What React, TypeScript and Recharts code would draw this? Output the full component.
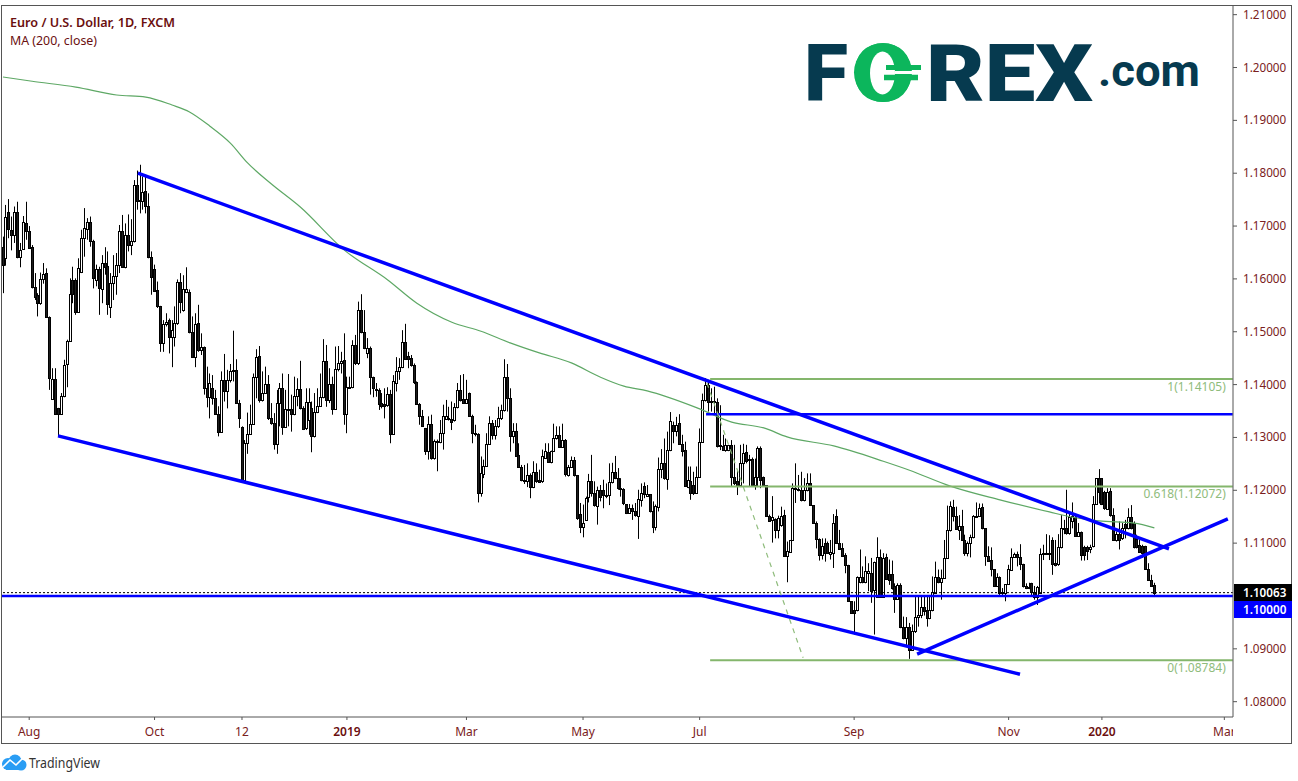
import { Bar, ComposedChart, Label, Line, ReferenceLine, XAxis, YAxis } from "recharts";

const TICK_COLOR = "#7a2020";
const LEGEND_COLOR = "#6b0f0f";
const FIB_GREEN = "#84b66c";
const FIB_TEXT = "#8fbc7c";
const BLUE = "#0000ff";
const LOGO_DARK = "#063a4f";
const LOGO_GREEN = "#0cb65c";
const FONT = "'Noto Sans', sans-serif";
const PLOT_RIGHT = 1233;

const upDown = (
  "bwbbwbwwbb" + "bbbwwbbwbb" + "wwwwbbwwww" + "bbwbwbbwww" + "wbwbwwbbwb" + "bbbbbwwbww" + "wbwwbbwbwb" + "bwbbbwbwww" +
  "bbbwwwwwbw" + "wbbbwwbwwb" + "wwbbwwbwww" + "wbwbwwwbww" + "wbwbbwbbwb" + "bbwbwwwwbb" + "bbbbbbwbww" + "wwwbbwwbbw" +
  "bbbbwwwwbw" + "wwwbbwbbbb" + "wbwbbwwbww" + "wbwbwwbbbw" + "wwbbwbbbww" + "bbbbbwbbww" + "bwbbwwwbww" + "bwbbbwbbww" +
  "wwbwwbwbww" + "bbbwwbwbww" + "bbbbwbwwbw" + "wwwbbwwbbb" + "bwbbwwbbbb" + "bbbwwbwwbw" + "wbwbbbbwbb" + "wbwwwwbbww" +
  "wbwwwwbbwb" + "bwwwwwbbbb" + "bwbbwwwwbb" + "bbwbbwwwbw" + "bbwwwbwwbw" + "bbbwwwbbbw" + "bbwbwbwbbb" + "bbbbbb"
).split("");

const bodyTops = [
  1.1661, 1.1718, 1.1727, 1.1693, 1.1727, 1.1727, 1.1655, 1.1707, 1.1705, 1.1691,
  1.1660, 1.1584, 1.1570, 1.1599, 1.1610, 1.1611, 1.1528, 1.1410, 1.1410, 1.1356,
  1.1378, 1.1438, 1.1483, 1.1571, 1.1598, 1.1598, 1.1620, 1.1677, 1.1696, 1.1708,
  1.1707, 1.1671, 1.1618, 1.1618, 1.1630, 1.1630, 1.1625, 1.1592, 1.1605, 1.1626,
  1.1690, 1.1690, 1.1683, 1.1683, 1.1672, 1.1778, 1.1778, 1.1749, 1.1765, 1.1766,
  1.1738, 1.1641, 1.1618, 1.1579, 1.1549, 1.1515, 1.1519, 1.1522, 1.1503, 1.1517,
  1.1594, 1.1594, 1.1580, 1.1580, 1.1576, 1.1500, 1.1515, 1.1516, 1.1471, 1.1471,
  1.1393, 1.1403, 1.1393, 1.1374, 1.1344, 1.1408, 1.1408, 1.1408, 1.1426, 1.1428,
  1.1428, 1.1365, 1.1319, 1.1290, 1.1307, 1.1326, 1.1415, 1.1453, 1.1454, 1.1385,
  1.1401, 1.1401, 1.1336, 1.1328, 1.1366, 1.1393, 1.1393, 1.1353, 1.1353, 1.1353,
  1.1379, 1.1391, 1.1391, 1.1355, 1.1368, 1.1368, 1.1355, 1.1348, 1.1360, 1.1377,
  1.1445, 1.1445, 1.1401, 1.1401, 1.1429, 1.1440, 1.1444, 1.1447, 1.1395, 1.1396,
  1.1475, 1.1475, 1.1542, 1.1542, 1.1500, 1.1469, 1.1469, 1.1414, 1.1391, 1.1390,
  1.1365, 1.1364, 1.1382, 1.1382, 1.1406, 1.1426, 1.1433, 1.1480, 1.1480, 1.1454,
  1.1450, 1.1437, 1.1404, 1.1363, 1.1341, 1.1318, 1.1326, 1.1326, 1.1294, 1.1294,
  1.1309, 1.1340, 1.1341, 1.1336, 1.1335, 1.1358, 1.1389, 1.1389, 1.1372, 1.1372,
  1.1384, 1.1341, 1.1308, 1.1307, 1.1232, 1.1246, 1.1288, 1.1327, 1.1327, 1.1321,
  1.1336, 1.1351, 1.1414, 1.1414, 1.1374, 1.1313, 1.1313, 1.1266, 1.1245, 1.1220,
  1.1229, 1.1229, 1.1234, 1.1234, 1.1220, 1.1264, 1.1275, 1.1273, 1.1275, 1.1299,
  1.1305, 1.1304, 1.1296, 1.1296, 1.1245, 1.1258, 1.1258, 1.1228, 1.1155, 1.1139,
  1.1185, 1.1217, 1.1217, 1.1194, 1.1201, 1.1201, 1.1201, 1.1192, 1.1215, 1.1234,
  1.1235, 1.1224, 1.1204, 1.1202, 1.1174, 1.1166, 1.1166, 1.1160, 1.1183, 1.1194,
  1.1209, 1.1193, 1.1193, 1.1160, 1.1170, 1.1240, 1.1252, 1.1252, 1.1276, 1.1332,
  1.1324, 1.1324, 1.1327, 1.1288, 1.1276, 1.1220, 1.1218, 1.1210, 1.1226, 1.1292,
  1.1370, 1.1399, 1.1399, 1.1369, 1.1369, 1.1368, 1.1285, 1.1284, 1.1286, 1.1286,
  1.1286, 1.1226, 1.1217, 1.1252, 1.1271, 1.1273, 1.1260, 1.1260, 1.1225, 1.1280,
  1.1280, 1.1226, 1.1210, 1.1152, 1.1150, 1.1146, 1.1147, 1.1152, 1.1153, 1.1086,
  1.1106, 1.1204, 1.1204, 1.1202, 1.1201, 1.1201, 1.1213, 1.1213, 1.1172, 1.1139,
  1.1108, 1.1094, 1.1101, 1.1101, 1.1084, 1.1139, 1.1152, 1.1100, 1.1091, 1.1078,
  1.1058, 1.0990, 1.0973, 1.1036, 1.1036, 1.1036, 1.1048, 1.1048, 1.1044, 1.1065,
  1.1073, 1.1073, 1.1072, 1.1073, 1.1042, 1.1042, 1.1018, 1.1021, 1.1021, 1.0942,
  1.0942, 1.0942, 1.0933, 1.0960, 1.0964, 1.0979, 1.0980, 1.0973, 1.0973, 1.1007,
  1.1036, 1.1036, 1.1034, 1.1072, 1.1124, 1.1170, 1.1169, 1.1151, 1.1132, 1.1132,
  1.1106, 1.1100, 1.1111, 1.1151, 1.1152, 1.1166, 1.1168, 1.1128, 1.1075, 1.1068,
  1.1051, 1.1035, 1.1035, 1.1008, 1.1022, 1.1051, 1.1073, 1.1079, 1.1079, 1.1074,
  1.1060, 1.1018, 1.1017, 1.1024, 1.1008, 1.1017, 1.1079, 1.1081, 1.1081, 1.1082,
  1.1106, 1.1062, 1.1092, 1.1129, 1.1129, 1.1129, 1.1150, 1.1151, 1.1150, 1.1122,
  1.1122, 1.1092, 1.1092, 1.1092, 1.1175, 1.1223, 1.1223, 1.1223, 1.1197, 1.1197,
  1.1199, 1.1153, 1.1117, 1.1117, 1.1128, 1.1136, 1.1150, 1.1150, 1.1138, 1.1107,
  1.1097, 1.1095, 1.1095, 1.1052, 1.1031, 1.1021,
];

const bodyBottoms = [
  1.1627, 1.1639, 1.1694, 1.1684, 1.1684, 1.1642, 1.1642, 1.1656, 1.1690, 1.1659,
  1.1584, 1.1565, 1.1555, 1.1554, 1.1599, 1.1528, 1.1412, 1.1373, 1.1344, 1.1344,
  1.1345, 1.1378, 1.1439, 1.1482, 1.1571, 1.1538, 1.1538, 1.1614, 1.1677, 1.1694,
  1.1671, 1.1601, 1.1597, 1.1582, 1.1581, 1.1623, 1.1552, 1.1547, 1.1592, 1.1605,
  1.1626, 1.1623, 1.1623, 1.1664, 1.1664, 1.1672, 1.1748, 1.1748, 1.1748, 1.1738,
  1.1641, 1.1603, 1.1578, 1.1548, 1.1478, 1.1478, 1.1515, 1.1491, 1.1491, 1.1491,
  1.1517, 1.1557, 1.1541, 1.1576, 1.1500, 1.1453, 1.1453, 1.1465, 1.1466, 1.1393,
  1.1376, 1.1376, 1.1374, 1.1344, 1.1311, 1.1311, 1.1388, 1.1388, 1.1408, 1.1426,
  1.1365, 1.1336, 1.1217, 1.1220, 1.1289, 1.1307, 1.1325, 1.1414, 1.1370, 1.1370,
  1.1385, 1.1336, 1.1327, 1.1287, 1.1287, 1.1366, 1.1319, 1.1319, 1.1352, 1.1344,
  1.1345, 1.1379, 1.1355, 1.1316, 1.1318, 1.1333, 1.1302, 1.1302, 1.1348, 1.1360,
  1.1376, 1.1370, 1.1370, 1.1354, 1.1354, 1.1429, 1.1440, 1.1344, 1.1344, 1.1395,
  1.1395, 1.1440, 1.1440, 1.1500, 1.1469, 1.1459, 1.1414, 1.1393, 1.1390, 1.1363,
  1.1360, 1.1360, 1.1362, 1.1306, 1.1306, 1.1403, 1.1426, 1.1433, 1.1448, 1.1448,
  1.1437, 1.1404, 1.1363, 1.1341, 1.1321, 1.1275, 1.1275, 1.1261, 1.1261, 1.1292,
  1.1292, 1.1308, 1.1335, 1.1335, 1.1330, 1.1333, 1.1357, 1.1370, 1.1365, 1.1365,
  1.1341, 1.1308, 1.1306, 1.1195, 1.1195, 1.1231, 1.1246, 1.1288, 1.1304, 1.1304,
  1.1321, 1.1336, 1.1351, 1.1374, 1.1302, 1.1302, 1.1265, 1.1245, 1.1220, 1.1217,
  1.1217, 1.1206, 1.1206, 1.1218, 1.1215, 1.1217, 1.1262, 1.1254, 1.1253, 1.1275,
  1.1299, 1.1282, 1.1282, 1.1231, 1.1229, 1.1245, 1.1228, 1.1147, 1.1131, 1.1131,
  1.1144, 1.1187, 1.1194, 1.1172, 1.1171, 1.1188, 1.1191, 1.1190, 1.1191, 1.1215,
  1.1223, 1.1204, 1.1202, 1.1176, 1.1157, 1.1157, 1.1160, 1.1154, 1.1152, 1.1182,
  1.1193, 1.1189, 1.1160, 1.1130, 1.1130, 1.1169, 1.1240, 1.1223, 1.1221, 1.1276,
  1.1313, 1.1313, 1.1288, 1.1275, 1.1209, 1.1207, 1.1194, 1.1194, 1.1194, 1.1226,
  1.1292, 1.1370, 1.1368, 1.1368, 1.1368, 1.1284, 1.1284, 1.1276, 1.1276, 1.1276,
  1.1225, 1.1213, 1.1209, 1.1210, 1.1252, 1.1256, 1.1257, 1.1210, 1.1210, 1.1225,
  1.1220, 1.1210, 1.1152, 1.1141, 1.1144, 1.1124, 1.1124, 1.1135, 1.1075, 1.1075,
  1.1084, 1.1106, 1.1202, 1.1200, 1.1181, 1.1181, 1.1201, 1.1172, 1.1139, 1.1108,
  1.1078, 1.1078, 1.1081, 1.1081, 1.1080, 1.1081, 1.1100, 1.1089, 1.1076, 1.1058,
  1.0990, 1.0968, 1.0968, 1.0973, 1.1026, 1.1026, 1.1026, 1.1044, 1.1010, 1.1012,
  1.0999, 1.0999, 1.0999, 1.1032, 1.1031, 1.1015, 1.0994, 1.0994, 1.0942, 1.0920,
  1.0920, 1.0898, 1.0898, 1.0933, 1.0960, 1.0964, 1.0971, 1.0958, 1.0958, 1.0973,
  1.1005, 1.1026, 1.1026, 1.1034, 1.1072, 1.1124, 1.1151, 1.1126, 1.1125, 1.1106,
  1.1081, 1.1081, 1.1100, 1.1111, 1.1151, 1.1151, 1.1128, 1.1075, 1.1067, 1.1051,
  1.1018, 1.1018, 1.1006, 1.1005, 1.1006, 1.1022, 1.1049, 1.1073, 1.1074, 1.1060,
  1.1018, 1.1015, 1.1015, 1.1008, 1.0999, 1.0999, 1.1005, 1.1079, 1.1079, 1.1080,
  1.1061, 1.1059, 1.1061, 1.1092, 1.1128, 1.1119, 1.1119, 1.1141, 1.1114, 1.1114,
  1.1078, 1.1078, 1.1086, 1.1088, 1.1095, 1.1175, 1.1197, 1.1174, 1.1166, 1.1164,
  1.1153, 1.1106, 1.1105, 1.1106, 1.1109, 1.1128, 1.1128, 1.1128, 1.1092, 1.1092,
  1.1084, 1.1082, 1.1052, 1.1030, 1.1019, 1.1006,
];

const highs = [
  1.1680, 1.1740, 1.1751, 1.1718, 1.1737, 1.1746, 1.1668, 1.1719, 1.1746, 1.1700,
  1.1664, 1.1611, 1.1573, 1.1612, 1.1630, 1.1620, 1.1529, 1.1431, 1.1431, 1.1356,
  1.1384, 1.1447, 1.1485, 1.1601, 1.1623, 1.1601, 1.1639, 1.1693, 1.1734, 1.1715,
  1.1718, 1.1674, 1.1627, 1.1623, 1.1645, 1.1660, 1.1652, 1.1611, 1.1645, 1.1649,
  1.1702, 1.1721, 1.1705, 1.1722, 1.1713, 1.1787, 1.1805, 1.1816, 1.1794, 1.1797,
  1.1762, 1.1652, 1.1627, 1.1595, 1.1549, 1.1522, 1.1535, 1.1525, 1.1522, 1.1548,
  1.1599, 1.1611, 1.1607, 1.1622, 1.1580, 1.1529, 1.1535, 1.1551, 1.1497, 1.1472,
  1.1434, 1.1421, 1.1418, 1.1390, 1.1359, 1.1425, 1.1458, 1.1428, 1.1439, 1.1502,
  1.1448, 1.1371, 1.1321, 1.1295, 1.1347, 1.1362, 1.1421, 1.1467, 1.1473, 1.1425,
  1.1434, 1.1418, 1.1365, 1.1346, 1.1390, 1.1403, 1.1421, 1.1390, 1.1420, 1.1381,
  1.1415, 1.1412, 1.1445, 1.1359, 1.1393, 1.1393, 1.1368, 1.1384, 1.1393, 1.1421,
  1.1486, 1.1475, 1.1431, 1.1415, 1.1472, 1.1473, 1.1462, 1.1497, 1.1415, 1.1415,
  1.1484, 1.1494, 1.1557, 1.1571, 1.1541, 1.1488, 1.1472, 1.1415, 1.1403, 1.1393,
  1.1384, 1.1393, 1.1395, 1.1390, 1.1418, 1.1452, 1.1450, 1.1503, 1.1515, 1.1462,
  1.1456, 1.1440, 1.1406, 1.1365, 1.1352, 1.1318, 1.1340, 1.1343, 1.1296, 1.1296,
  1.1333, 1.1362, 1.1371, 1.1358, 1.1368, 1.1365, 1.1403, 1.1418, 1.1420, 1.1409,
  1.1385, 1.1343, 1.1324, 1.1308, 1.1264, 1.1258, 1.1308, 1.1340, 1.1333, 1.1333,
  1.1358, 1.1362, 1.1448, 1.1439, 1.1393, 1.1327, 1.1327, 1.1289, 1.1248, 1.1248,
  1.1251, 1.1232, 1.1255, 1.1251, 1.1239, 1.1277, 1.1289, 1.1289, 1.1275, 1.1326,
  1.1321, 1.1321, 1.1326, 1.1297, 1.1248, 1.1264, 1.1263, 1.1229, 1.1176, 1.1173,
  1.1188, 1.1231, 1.1267, 1.1217, 1.1207, 1.1210, 1.1220, 1.1213, 1.1251, 1.1252,
  1.1265, 1.1242, 1.1223, 1.1204, 1.1174, 1.1174, 1.1173, 1.1176, 1.1201, 1.1213,
  1.1215, 1.1210, 1.1193, 1.1179, 1.1173, 1.1262, 1.1278, 1.1298, 1.1311, 1.1348,
  1.1330, 1.1339, 1.1344, 1.1305, 1.1292, 1.1245, 1.1245, 1.1235, 1.1245, 1.1317,
  1.1383, 1.1412, 1.1409, 1.1393, 1.1396, 1.1374, 1.1361, 1.1305, 1.1298, 1.1286,
  1.1295, 1.1286, 1.1239, 1.1286, 1.1288, 1.1286, 1.1267, 1.1262, 1.1260, 1.1283,
  1.1283, 1.1226, 1.1210, 1.1154, 1.1189, 1.1147, 1.1152, 1.1169, 1.1163, 1.1103,
  1.1106, 1.1213, 1.1251, 1.1229, 1.1235, 1.1223, 1.1232, 1.1232, 1.1172, 1.1141,
  1.1109, 1.1109, 1.1109, 1.1103, 1.1106, 1.1155, 1.1164, 1.1125, 1.1100, 1.1081,
  1.1059, 1.0990, 1.0990, 1.1037, 1.1088, 1.1056, 1.1075, 1.1062, 1.1072, 1.1065,
  1.1111, 1.1088, 1.1081, 1.1080, 1.1069, 1.1067, 1.1024, 1.1024, 1.1024, 1.0961,
  1.0960, 1.0949, 1.0946, 1.0998, 1.0999, 1.0999, 1.0999, 1.0999, 1.0999, 1.1037,
  1.1065, 1.1050, 1.1050, 1.1106, 1.1171, 1.1179, 1.1182, 1.1169, 1.1153, 1.1163,
  1.1116, 1.1103, 1.1116, 1.1153, 1.1177, 1.1175, 1.1175, 1.1128, 1.1094, 1.1092,
  1.1051, 1.1043, 1.1037, 1.1015, 1.1022, 1.1059, 1.1090, 1.1082, 1.1084, 1.1098,
  1.1061, 1.1024, 1.1025, 1.1025, 1.1019, 1.1019, 1.1090, 1.1097, 1.1117, 1.1115,
  1.1111, 1.1106, 1.1117, 1.1153, 1.1144, 1.1201, 1.1160, 1.1177, 1.1153, 1.1138,
  1.1122, 1.1095, 1.1095, 1.1097, 1.1189, 1.1223, 1.1240, 1.1223, 1.1199, 1.1204,
  1.1204, 1.1166, 1.1122, 1.1141, 1.1138, 1.1144, 1.1166, 1.1172, 1.1141, 1.1116,
  1.1106, 1.1097, 1.1095, 1.1062, 1.1040, 1.1025,
];

const lows = [
  1.1573, 1.1625, 1.1677, 1.1654, 1.1668, 1.1639, 1.1622, 1.1655, 1.1674, 1.1658,
  1.1582, 1.1560, 1.1529, 1.1551, 1.1591, 1.1526, 1.1390, 1.1371, 1.1343, 1.1302,
  1.1343, 1.1376, 1.1395, 1.1482, 1.1554, 1.1532, 1.1536, 1.1611, 1.1642, 1.1674,
  1.1661, 1.1582, 1.1586, 1.1532, 1.1554, 1.1608, 1.1532, 1.1526, 1.1560, 1.1570,
  1.1611, 1.1622, 1.1620, 1.1652, 1.1645, 1.1669, 1.1731, 1.1724, 1.1731, 1.1724,
  1.1639, 1.1570, 1.1578, 1.1545, 1.1462, 1.1462, 1.1510, 1.1459, 1.1433, 1.1472,
  1.1513, 1.1535, 1.1538, 1.1573, 1.1497, 1.1452, 1.1433, 1.1462, 1.1456, 1.1381,
  1.1357, 1.1336, 1.1362, 1.1343, 1.1302, 1.1309, 1.1368, 1.1355, 1.1404, 1.1406,
  1.1364, 1.1318, 1.1215, 1.1219, 1.1269, 1.1305, 1.1324, 1.1374, 1.1366, 1.1368,
  1.1383, 1.1333, 1.1324, 1.1277, 1.1269, 1.1321, 1.1305, 1.1318, 1.1321, 1.1311,
  1.1342, 1.1359, 1.1353, 1.1314, 1.1314, 1.1305, 1.1272, 1.1300, 1.1346, 1.1358,
  1.1374, 1.1358, 1.1365, 1.1343, 1.1352, 1.1425, 1.1421, 1.1324, 1.1308, 1.1393,
  1.1393, 1.1437, 1.1437, 1.1497, 1.1467, 1.1450, 1.1381, 1.1376, 1.1377, 1.1352,
  1.1355, 1.1336, 1.1358, 1.1289, 1.1305, 1.1387, 1.1409, 1.1431, 1.1447, 1.1431,
  1.1434, 1.1401, 1.1362, 1.1324, 1.1321, 1.1267, 1.1258, 1.1258, 1.1258, 1.1236,
  1.1289, 1.1277, 1.1333, 1.1332, 1.1314, 1.1330, 1.1355, 1.1368, 1.1364, 1.1364,
  1.1340, 1.1289, 1.1302, 1.1177, 1.1188, 1.1223, 1.1245, 1.1286, 1.1296, 1.1296,
  1.1318, 1.1333, 1.1349, 1.1349, 1.1273, 1.1289, 1.1264, 1.1245, 1.1217, 1.1212,
  1.1206, 1.1185, 1.1204, 1.1214, 1.1214, 1.1214, 1.1261, 1.1253, 1.1251, 1.1273,
  1.1296, 1.1280, 1.1280, 1.1226, 1.1226, 1.1244, 1.1226, 1.1144, 1.1119, 1.1111,
  1.1144, 1.1177, 1.1188, 1.1169, 1.1135, 1.1179, 1.1166, 1.1185, 1.1172, 1.1213,
  1.1221, 1.1201, 1.1188, 1.1172, 1.1155, 1.1157, 1.1144, 1.1150, 1.1108, 1.1169,
  1.1185, 1.1188, 1.1158, 1.1119, 1.1124, 1.1160, 1.1223, 1.1220, 1.1201, 1.1274,
  1.1289, 1.1302, 1.1286, 1.1264, 1.1207, 1.1204, 1.1182, 1.1191, 1.1193, 1.1225,
  1.1290, 1.1368, 1.1349, 1.1349, 1.1346, 1.1281, 1.1276, 1.1275, 1.1273, 1.1274,
  1.1207, 1.1210, 1.1191, 1.1207, 1.1213, 1.1251, 1.1207, 1.1209, 1.1201, 1.1206,
  1.1204, 1.1209, 1.1150, 1.1141, 1.1101, 1.1109, 1.1109, 1.1131, 1.1075, 1.1026,
  1.1082, 1.1105, 1.1176, 1.1198, 1.1179, 1.1179, 1.1198, 1.1171, 1.1138, 1.1090,
  1.1067, 1.1069, 1.1065, 1.1080, 1.1069, 1.1053, 1.1099, 1.1087, 1.1075, 1.1043,
  1.0990, 1.0968, 1.0927, 1.0971, 1.1024, 1.1024, 1.1024, 1.1009, 1.0987, 1.0927,
  1.0998, 1.0998, 1.0998, 1.1031, 1.1021, 1.1012, 1.0968, 1.0993, 1.0939, 1.0918,
  1.0905, 1.0881, 1.0897, 1.0930, 1.0942, 1.0958, 1.0963, 1.0942, 1.0956, 1.0971,
  1.1004, 1.1024, 1.0993, 1.1033, 1.1070, 1.1122, 1.1141, 1.1125, 1.1106, 1.1105,
  1.1076, 1.1075, 1.1073, 1.1109, 1.1149, 1.1150, 1.1126, 1.1057, 1.1065, 1.1037,
  1.1017, 1.1017, 1.1002, 1.1002, 1.0990, 1.1021, 1.1048, 1.1072, 1.1056, 1.1049,
  1.1016, 1.1013, 1.1013, 1.0999, 1.0993, 1.0983, 1.1004, 1.1068, 1.1078, 1.1068,
  1.1040, 1.1056, 1.1057, 1.1090, 1.1117, 1.1116, 1.1116, 1.1128, 1.1112, 1.1112,
  1.1067, 1.1067, 1.1068, 1.1081, 1.1092, 1.1174, 1.1175, 1.1172, 1.1163, 1.1163,
  1.1150, 1.1105, 1.1103, 1.1088, 1.1106, 1.1109, 1.1126, 1.1126, 1.1090, 1.1090,
  1.1082, 1.1072, 1.1051, 1.1029, 1.1018, 1.0998,
];

// moving average at these bar positions
const maBars = [
  0, 10, 25, 39, 49, 58, 64, 71, 78, 84, 92, 102, 117, 132, 142, 154, 164, 174, 184, 195,
  205, 213, 221, 239, 250, 261, 269, 285, 302, 311, 325, 342, 359, 367, 376, 388, 395,
];
const maValues = [
  1.1982, 1.1974, 1.1963, 1.1948, 1.1944, 1.1929, 1.1916, 1.1889, 1.1857, 1.1819, 1.178, 1.1736, 1.1655, 1.1598,
  1.1554, 1.1518, 1.1501, 1.1479, 1.146, 1.1441, 1.1414, 1.1397, 1.1388, 1.1354, 1.1329, 1.1318, 1.1301, 1.1284,
  1.1255, 1.1238, 1.1208, 1.1182, 1.1159, 1.1149, 1.1142, 1.1138, 1.1129,
];

const priceTicks = [1.08, 1.09, 1.1, 1.11, 1.12, 1.13, 1.14, 1.15, 1.16, 1.17, 1.18, 1.19, 1.2, 1.21];
const lastPrice = 1.10063;
const levelPrice = 1.1;
const resistancePrice = 1.1344;

const timeTicks = [9, 52, 82, 118, 159, 199, 239, 292, 345, 377, 419];
const timeLabels = ["Aug", "Oct", "12", "2019", "Mar", "May", "Jul", "Sep", "Nov", "2020", "Mar"];

const fibStart = 242.6;
const fibEnd = 421.9;
const fibLevels = [1.14105, 1.12072, 1.08784];
const fibLabels = ["1(1.14105)", "0.618(1.12072)", "0(1.08784)"];

// [bar, price] end points of the drawn lines
const upperTrend = [[46.3, 1.18], [400, 1.1089]];
const lowerTrend = [[18.9, 1.1303], [348.9, 1.0852]];
const riseTrend = [[313.6, 1.089], [420.2, 1.1146]];
const fibLeg = [[241.5, 1.1403], [274.5, 1.0883]];

const rows = bodyTops.map((top, i) => {
  const maAt = maBars.indexOf(i);
  return {
    i,
    top,
    bottom: bodyBottoms[i],
    range: [lows[i], highs[i]],
    up: upDown[i] === "w",
    ma: maAt >= 0 ? maValues[maAt] : null,
  };
});

const toSegment = (line: number[][]) => line.map(([x, y]) => ({ x, y }));

function Candle(props: any) {
  const { x, y, height, payload } = props;
  if (!payload || !height) return null;
  const [low, high] = payload.range;
  const perUnit = height / (high - low);
  const c = Math.floor(x + 1.5);
  const top = Math.round(y + (high - payload.top) * perUnit);
  const bottom = Math.round(y + (high - payload.bottom) * perUnit);
  return (
    <g>
      <line x1={c + 0.5} x2={c + 0.5} y1={y} y2={y + height} stroke="#000" strokeWidth={1} />
      <rect
        x={c - 0.5}
        y={top + 0.5}
        width={2}
        height={Math.max(bottom - top, 1)}
        fill={payload.up ? "#fff" : "#1c1c1c"}
        stroke="#000"
        strokeWidth={1}
      />
    </g>
  );
}

function PriceTick(props: any) {
  const { y, payload } = props;
  const value = payload.value;
  if (value === lastPrice || value === levelPrice) {
    const isLast = value === lastPrice;
    const boxTop = isLast ? 584 : 601;
    return (
      <g>
        <rect x={PLOT_RIGHT + 1} y={boxTop} width={58} height={17} fill={isLast ? "#000" : BLUE} />
        <text x={PLOT_RIGHT + 10} y={boxTop + 13} fill="#fff" fontFamily={FONT} fontSize={11.7} fontWeight={600}>
          {value.toFixed(5)}
        </text>
      </g>
    );
  }
  return (
    <g>
      <line x1={PLOT_RIGHT} x2={PLOT_RIGHT + 4} y1={y} y2={y} stroke="#555" />
      <text x={PLOT_RIGHT + 10} y={y + 4} fill={TICK_COLOR} fontFamily={FONT} fontSize={11.7}>
        {value.toFixed(5)}
      </text>
    </g>
  );
}

function TimeTick(props: any) {
  const { x, payload } = props;
  const label = timeLabels[timeTicks.indexOf(payload.value)];
  const isYear = label.length === 4;
  return (
    <g>
      <line x1={x} x2={x} y1={717} y2={720} stroke="#555" />
      <text
        x={x}
        y={736}
        textAnchor="middle"
        fill={isYear ? LEGEND_COLOR : TICK_COLOR}
        fontFamily={FONT}
        fontSize={12}
        fontWeight={isYear ? 600 : 400}
        clipPath="url(#timeClip)"
      >
        {label}
      </text>
    </g>
  );
}

function FibLabel(props: any) {
  const { viewBox, value } = props;
  return (
    <text
      x={viewBox.x + viewBox.width - 7}
      y={viewBox.y + 12}
      textAnchor="end"
      fill={FIB_TEXT}
      fontFamily={FONT}
      fontSize={12}
    >
      {value}
    </text>
  );
}

function Overlay() {
  return (
    <svg width={1298} height={781} style={{ position: "absolute", left: 0, top: 0, pointerEvents: "none" }}>
      <text x={10} y={27} fill={LEGEND_COLOR} fontFamily={FONT} fontSize={12.5} fontWeight={600} textLength={165} lengthAdjust="spacingAndGlyphs">
        Euro / U.S. Dollar, 1D, FXCM
      </text>
      <text x={10} y={45} fill={LEGEND_COLOR} fontFamily={FONT} fontSize={12.5} textLength={87} lengthAdjust="spacingAndGlyphs">
        MA (200, close)
      </text>

      <g fontFamily="Roboto, sans-serif" fontWeight={900} fontSize={80}>
        <text x={804} y={101} fill={LOGO_DARK} textLength={44} lengthAdjust="spacingAndGlyphs">F</text>
        <text x={852} y={101} fill={LOGO_GREEN} textLength={62} lengthAdjust="spacingAndGlyphs">O</text>
        <text x={926} y={101} fill={LOGO_DARK} textLength={167} lengthAdjust="spacingAndGlyphs">REX</text>
      </g>
      {/* euro-style O of the logo */}
      <ellipse cx={883} cy={72.5} rx={29} ry={29.5} fill={LOGO_GREEN} />
      <ellipse cx={882.5} cy={73} rx={12.5} ry={21.5} fill="#fff" />
      <line x1={895} x2={913} y1={72.5} y2={72.5} stroke="#fff" strokeWidth={3} />
      <line x1={886} x2={921} y1={67.5} y2={67.5} stroke={LOGO_GREEN} strokeWidth={5} />
      <line x1={884} x2={918} y1={77.5} y2={77.5} stroke={LOGO_GREEN} strokeWidth={5.5} />
      <text x={1098} y={86} fill={LOGO_DARK} fontFamily="Roboto, sans-serif" fontWeight={700} fontSize={44} textLength={102} lengthAdjust="spacingAndGlyphs">
        .com
      </text>

      <g>
        <circle cx={8} cy={764} r={6} fill="#2a9df4" />
        <circle cx={15} cy={761} r={6.5} fill="#2a9df4" />
        <circle cx={21} cy={765} r={5.5} fill="#2a9df4" />
        <rect x={6} y={764} width={16} height={6} fill="#2a9df4" />
        <polyline points="3,767 10,760 16,765 23,758" fill="none" stroke="#fff" strokeWidth={1.6} />
      </g>
      <text x={29} y={768} fill="#333" fontFamily={FONT} fontSize={15} textLength={71} lengthAdjust="spacingAndGlyphs">
        TradingView
      </text>
    </svg>
  );
}

export default function App() {
  return (
    <div style={{ position: "absolute", left: 0, top: 0, width: 1298, height: 781, background: "#fff" }}>
      <div style={{ position: "absolute", left: 1, top: 5, width: 1291, height: 739, boxSizing: "border-box", border: "1px solid #555" }} />
      <div style={{ position: "absolute", left: 0, top: 0 }}>
        <ComposedChart
          width={1298}
          height={781}
          data={rows}
          margin={{ top: 5, right: 6, bottom: 37, left: 2 }}
          barCategoryGap={0}
        >
          <defs>
            <clipPath id="timeClip">
              <rect x={0} y={717} width={PLOT_RIGHT} height={27} />
            </clipPath>
          </defs>
          <XAxis
            dataKey="i"
            type="number"
            scale="linear"
            domain={[-0.33, 421.97]}
            allowDataOverflow
            ticks={timeTicks}
            interval={0}
            height={27}
            tick={<TimeTick />}
            tickLine={false}
            axisLine={{ stroke: "#555" }}
          />
          <YAxis
            type="number"
            orientation="right"
            domain={[1.0771, 1.21183]}
            allowDataOverflow
            ticks={[...priceTicks, lastPrice]}
            interval={0}
            width={59}
            tick={<PriceTick />}
            tickLine={false}
            axisLine={{ stroke: "#555" }}
          />
          <Bar dataKey="range" barSize={3} shape={<Candle />} isAnimationActive={false} />
          <Line type="monotone" dataKey="ma" stroke="#5ea865" strokeWidth={1.2} dot={false} connectNulls isAnimationActive={false} />

          <ReferenceLine y={levelPrice} stroke={BLUE} strokeWidth={2.5} />
          <ReferenceLine y={lastPrice} stroke="#000" strokeWidth={1} strokeDasharray="2 2" />
          <ReferenceLine segment={[{ x: 241.2, y: resistancePrice }, { x: fibEnd, y: resistancePrice }]} stroke={BLUE} strokeWidth={2.5} />
          {fibLevels.map((level, n) => (
            <ReferenceLine
              key={level}
              segment={[{ x: fibStart, y: level }, { x: fibEnd, y: level }]}
              stroke={FIB_GREEN}
              strokeWidth={2}
            >
              <Label value={fibLabels[n]} content={<FibLabel />} />
            </ReferenceLine>
          ))}
          <ReferenceLine segment={toSegment(fibLeg)} stroke={FIB_TEXT} strokeWidth={1.2} strokeDasharray="5 5" />
          <ReferenceLine segment={toSegment(upperTrend)} stroke={BLUE} strokeWidth={3.5} />
          <ReferenceLine segment={toSegment(lowerTrend)} stroke={BLUE} strokeWidth={3.5} />
          <ReferenceLine segment={toSegment(riseTrend)} stroke={BLUE} strokeWidth={3.5} />
        </ComposedChart>
      </div>
      <Overlay />
    </div>
  );
}
